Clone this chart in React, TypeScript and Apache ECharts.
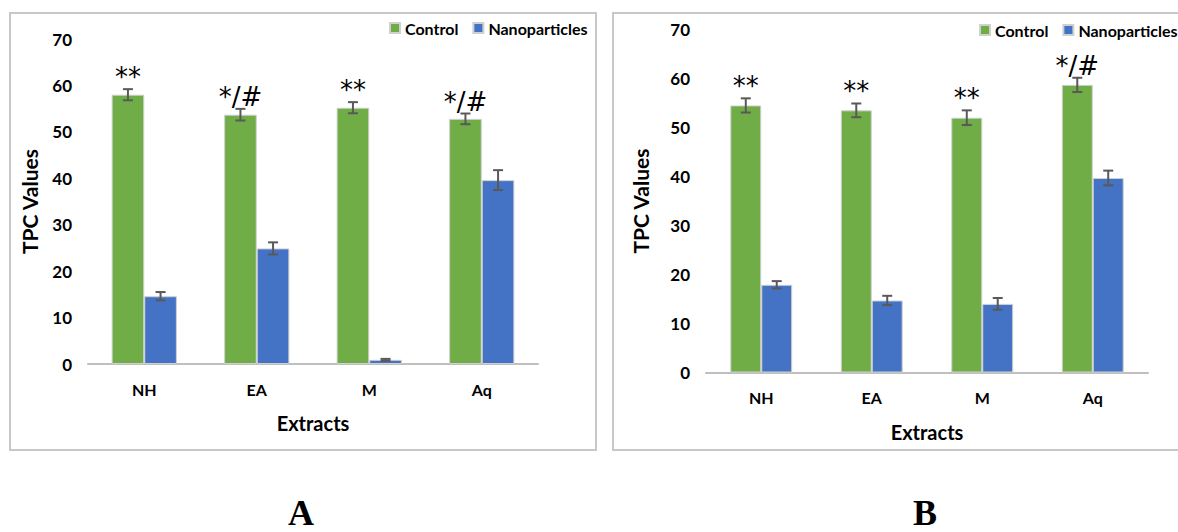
import React, { useEffect, useRef } from "react";
import * as echarts from "echarts";

const categories = ["NH", "EA", "M", "Aq"];
const controlA = [58.0, 53.7, 55.2, 52.8];
const controlErrA = [1.2, 1.25, 1.2, 1.15];
const nanoA = [14.6, 24.9, 0.9, 39.6];
const nanoErrA = [0.9, 1.3, 0.2, 2.15];
const sigA = ["**", "*/#", "**", "*/#"];

const controlB = [54.5, 53.5, 52.0, 58.7];
const controlErrB = [1.45, 1.4, 1.5, 1.45];
const nanoB = [17.9, 14.7, 14.0, 39.7];
const nanoErrB = [0.75, 0.95, 1.2, 1.5];
const sigB = ["**", "**", "**", "*/#"];

const yMin = 0;
const yMax = 70;
const yStep = 10;
const panelLabels = ["A", "B"];

const GREEN = "#70AD47";
const BLUE = "#4472C4";
const ERR = "#595959";
const FONT = "Lato, 'Open Sans', sans-serif";

function errSeries(
  gridIdx: number,
  name: string,
  values: number[],
  errs: number[],
  side: number,
  gap: number,
  labels: string[] | null
) {
  return {
    type: "custom",
    name,
    xAxisIndex: gridIdx,
    yAxisIndex: gridIdx,
    z: 5,
    silent: true,
    data: values.map((v, i) => [i, v, errs[i]]),
    renderItem: (params: any, api: any) => {
      const idx = api.value(0);
      const v = api.value(1);
      const e = api.value(2);
      const lab = labels ? labels[params.dataIndex] : "";
      const c = api.coord([idx, v]);
      const catW = api.size([1, 0])[0];
      const bw = (catW * (1 - gap)) / 2;
      const x = c[0] + (side * bw) / 2;
      const top = api.coord([idx, v + e])[1];
      const bot = api.coord([idx, v - e])[1];
      const st = { stroke: ERR, lineWidth: 2 };
      const children: any[] = [
        { type: "line", shape: { x1: x, y1: top, x2: x, y2: bot }, style: st },
        { type: "line", shape: { x1: x - 5, y1: top, x2: x + 5, y2: top }, style: st },
        { type: "line", shape: { x1: x - 5, y1: bot, x2: x + 5, y2: bot }, style: st },
      ];
      if (lab) {
        children.push({
          type: "text",
          x: x,
          y: top - 12,
          style: {
            text: lab,
            fill: "#000",
            font: "26px 'DejaVu Sans'",
            align: "center",
            verticalAlign: "middle",
          },
        });
      }
      return { type: "group", children };
    },
  };
}

export default function App() {
  const ref = useRef<HTMLDivElement>(null);
  useEffect(() => {
    if (!ref.current) return;
    const chart = echarts.init(ref.current, undefined, { renderer: "svg" });
    const gapA = 0.42;
    const gapB = 0.44;
    const grids = [
      { left: 88, top: 39, width: 450, height: 325 },
      { left: 706, top: 29.5, width: 442, height: 343 },
    ];
    const xAxis = grids.map((_, i) => ({
      type: "category",
      gridIndex: i,
      data: categories,
      axisLine: { lineStyle: { color: "#BFBFBF", width: 2 } },
      axisTick: { show: false },
      axisLabel: {
        color: "#000",
        fontFamily: FONT,
        fontWeight: "bold",
        fontSize: 16,
        margin: 17,
      },
      name: "Extracts",
      nameLocation: "middle",
      nameGap: 49,
      nameTextStyle: { color: "#000", fontFamily: FONT, fontWeight: "bold", fontSize: 20 },
    }));
    const yAxis = grids.map((_, i) => ({
      type: "value",
      gridIndex: i,
      min: yMin,
      max: yMax,
      interval: yStep,
      axisLine: { show: false },
      axisTick: { show: false },
      splitLine: { show: false },
      axisLabel: { color: "#000", fontFamily: FONT, fontWeight: "bold", fontSize: 17, margin: 16 },
      name: "TPC Values",
      nameLocation: "middle",
      nameGap: i === 0 ? 48 : 55,
      nameTextStyle: { color: "#000", fontFamily: FONT, fontWeight: "bold", fontSize: 21 },
    }));
    const barStyle = (color: string) => ({ color, borderColor: "#D0D0D0", borderWidth: 1 });
    const series: any[] = [
      { type: "bar", name: "Control", xAxisIndex: 0, yAxisIndex: 0, data: controlA, barGap: "0%", barCategoryGap: "42%", itemStyle: barStyle(GREEN) },
      { type: "bar", name: "Nanoparticles", xAxisIndex: 0, yAxisIndex: 0, data: nanoA, barGap: "0%", barCategoryGap: "42%", itemStyle: barStyle(BLUE) },
      errSeries(0, "errCA", controlA, controlErrA, -1, gapA, sigA),
      errSeries(0, "errNA", nanoA, nanoErrA, 1, gapA, null),
      { type: "bar", name: "Control", xAxisIndex: 1, yAxisIndex: 1, data: controlB, barGap: "0%", barCategoryGap: "44%", itemStyle: barStyle(GREEN) },
      { type: "bar", name: "Nanoparticles", xAxisIndex: 1, yAxisIndex: 1, data: nanoB, barGap: "0%", barCategoryGap: "44%", itemStyle: barStyle(BLUE) },
      errSeries(1, "errCB", controlB, controlErrB, -1, gapB, sigB),
      errSeries(1, "errNB", nanoB, nanoErrB, 1, gapB, null),
    ];
    const legendBase = {
      data: ["Control", "Nanoparticles"],
      icon: "rect",
      itemWidth: 10,
      itemHeight: 10,
      itemGap: 14,
      textStyle: { color: "#000", fontFamily: FONT, fontSize: 16, fontWeight: "bold" },
      selectedMode: false,
      padding: 0,
    };
    chart.setOption({
      animation: false,
      backgroundColor: "#fff",
      grid: grids,
      xAxis,
      yAxis,
      legend: [
        { ...legendBase, left: 389, top: 20 },
        { ...legendBase, left: 979, top: 22 },
      ],
      series,
      graphic: [
        { type: "rect", shape: { x: 10, y: 13, width: 586, height: 437 }, style: { fill: "none", stroke: "#C8C8C8", lineWidth: 2 } },
        { type: "rect", shape: { x: 613, y: 13, width: 570, height: 437 }, style: { fill: "none", stroke: "#C8C8C8", lineWidth: 2 } },
        { type: "text", x: 301, y: 513, style: { text: panelLabels[0], font: "bold 36px 'Liberation Serif'", fill: "#000", align: "center", verticalAlign: "middle" } },
        { type: "text", x: 925, y: 513, style: { text: panelLabels[1], font: "bold 36px 'Liberation Serif'", fill: "#000", align: "center", verticalAlign: "middle" } },
      ],
    });
    return () => chart.dispose();
  }, []);
  return (
    <div
      ref={ref}
      style={{ position: "fixed", left: 0, top: 0, width: 1178, height: 532 }}
    />
  );
}
